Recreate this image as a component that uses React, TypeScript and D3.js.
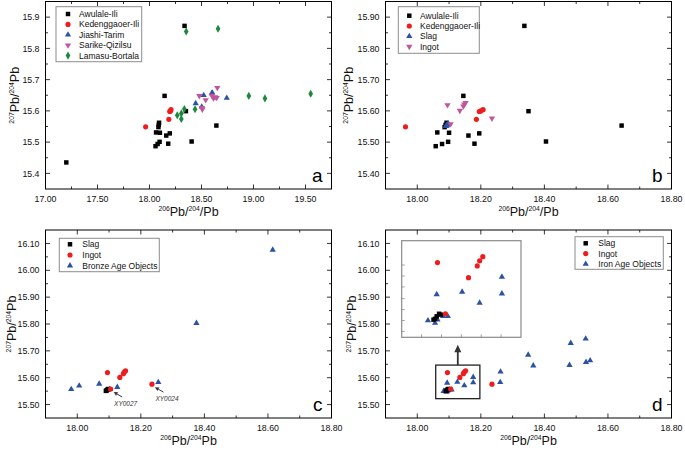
import React from "react";
import * as d3 from "d3";

const FONT = "'Liberation Sans', Arial, Helvetica, sans-serif";

// ---------------- data ----------------
const awulaleX = [17.2, 18.337, 18.145, 18.35, 18.063, 18.1, 18.161, 18.195, 18.058, 18.078, 18.097, 18.18, 18.405, 18.643, 18.086, 18.089, 18.092];
const awulaleY = [15.435, 15.872, 15.648, 15.599, 15.531, 15.53, 15.521, 15.528, 15.487, 15.494, 15.501, 15.495, 15.502, 15.553, 15.548, 15.555, 15.562];
const kedengX = [17.963, 18.186, 18.195, 18.2, 18.207];
const kedengY = [15.549, 15.573, 15.598, 15.6, 15.604];
const jiashiX = [18.444, 18.521, 18.502, 18.598, 18.604, 18.743];
const jiashiY = [15.624, 15.65, 15.613, 15.656, 15.658, 15.641];
const sarikeX = [18.479, 18.54, 18.508, 18.505, 18.615, 18.63, 18.646, 18.652, 18.6];
const sarikeY = [15.648, 15.635, 15.605, 15.61, 15.641, 15.644, 15.642, 15.674, 15.649];
const lamasuX = [18.353, 18.659, 18.955, 19.11, 19.55, 18.267, 18.306, 18.306, 18.335, 18.438];
const lamasuY = [15.854, 15.863, 15.648, 15.64, 15.655, 15.586, 15.592, 15.574, 15.606, 15.605];
const slagX = [18.09, 18.092, 18.094, 18.097, 18.099];
const slagY = [15.551, 15.552, 15.555, 15.558, 15.557];
const ingotX = [18.095, 18.134, 18.145, 18.148, 18.152, 18.105, 18.235];
const ingotY = [15.619, 15.601, 15.615, 15.621, 15.626, 15.558, 15.576];
const bronzeX = [17.981, 18.006, 18.069, 18.126, 18.255, 18.375, 18.615, 18.102];
const bronzeY = [15.557, 15.57, 15.577, 15.565, 15.583, 15.803, 16.076, 15.557];
const ironX = [18.094, 18.126, 18.148, 18.176, 18.176, 18.262, 18.261, 18.349, 18.365, 18.483, 18.479, 18.53, 18.531, 18.544, 18.083, 18.092, 18.095, 18.102, 18.108];
const ironY = [15.581, 15.584, 15.571, 15.602, 15.582, 15.622, 15.583, 15.685, 15.645, 15.729, 15.647, 15.745, 15.658, 15.664, 15.55, 15.547, 15.551, 15.555, 15.555];

// tick values
const aXTicks = [17.0, 17.5, 18.0, 18.5, 19.0, 19.5];
const aYTicks = [15.4, 15.5, 15.6, 15.7, 15.8, 15.9];
const bXTicks = [18.0, 18.2, 18.4, 18.6, 18.8];
const bYTicks = [15.4, 15.5, 15.6, 15.7, 15.8, 15.9];
const cdXTicks = [18.0, 18.2, 18.4, 18.6, 18.8];
const cdYTicks = [15.5, 15.6, 15.7, 15.8, 15.9, 16.0, 16.1];
const insetXTicks = [18.075, 18.1, 18.125, 18.15, 18.175];
const insetYTicks = [15.537, 15.55, 15.563, 15.576, 15.59, 15.603, 15.616];

// annotation labels (panel c) pointing at ingot samples
const annoLabels = ["XY0027", "XY0024"];
const annoIngotIndex = [5, 6];

// zoom region (panel d)
const zoomBoxX = [18.058, 18.197];
const zoomBoxY = [15.522, 15.647];
const insetDomX = [18.05, 18.2];
const insetDomY = [15.53, 15.645];

// ---------------- styles ----------------
type Marker = "square" | "circle" | "triangle" | "down" | "diamond";
const C = {
  black: "#000000",
  red: "#ee1d1d",
  blue: "#2b52a5",
  magenta: "#c0569d",
  green: "#1b8a3d",
};

interface Series {
  name: string;
  xs: number[];
  ys: number[];
  marker: Marker;
  color: string;
}

function symPath(m: Marker): string {
  const type =
    m === "square" ? d3.symbolSquare : m === "circle" ? d3.symbolCircle : m === "diamond" ? d3.symbolDiamond : d3.symbolTriangle;
  const size = m === "square" ? 20 : m === "circle" ? 21 : m === "diamond" ? 19 : 17;
  return d3.symbol().type(type).size(size)() as string;
}

function Mark({ m, color, x, y }: { m: Marker; color: string; x: number; y: number }) {
  return (
    <path
      d={symPath(m)}
      fill={color}
      transform={`translate(${x},${y})${m === "down" ? " rotate(180)" : ""}`}
    />
  );
}

function minorTicks(domain: number[], step: number, majors: number[]) {
  const out: number[] = [];
  const start = Math.ceil(domain[0] / step - 1e-6) * step;
  for (let v = start; v <= domain[1] + 1e-9; v += step) {
    const r = +v.toFixed(4);
    if (Math.abs(r - domain[0]) < 1e-6 || Math.abs(r - domain[1]) < 1e-6) continue;
    if (majors.some((mm) => Math.abs(mm - r) < 1e-6)) continue;
    out.push(r);
  }
  return out;
}

interface PanelCfg {
  id: string;
  left: number;
  top: number;
  width: number;
  height: number;
  xDomain: number[];
  yDomain: number[];
  xTicks: number[];
  yTicks: number[];
  xMinor: number;
  yMinor: number;
  xFmt: string;
  yFmt: string;
  xTitleExtra: boolean;
  yTitleOffset: number;
  series: Series[];
  legend: { x: number; y: number; w: number; h: number; mx: number; tx: number; rows: number[]; items: Series[] };
}

const S_awulale: Series = { name: "Awulale-Ili", xs: awulaleX, ys: awulaleY, marker: "square", color: C.black };
const S_keden: Series = { name: "Kedenggaoer-Ili", xs: kedengX, ys: kedengY, marker: "circle", color: C.red };
const S_jiashi: Series = { name: "Jiashi-Tarim", xs: jiashiX, ys: jiashiY, marker: "triangle", color: C.blue };
const S_sarike: Series = { name: "Sarike-Qizilsu", xs: sarikeX, ys: sarikeY, marker: "down", color: C.magenta };
const S_lamasu: Series = { name: "Lamasu-Bortala", xs: lamasuX, ys: lamasuY, marker: "diamond", color: C.green };
const S_slagB: Series = { name: "Slag", xs: slagX, ys: slagY, marker: "triangle", color: C.blue };
const S_ingotB: Series = { name: "Ingot", xs: ingotX, ys: ingotY, marker: "down", color: C.magenta };
const S_slag: Series = { name: "Slag", xs: slagX, ys: slagY, marker: "square", color: C.black };
const S_ingot: Series = { name: "Ingot", xs: ingotX, ys: ingotY, marker: "circle", color: C.red };
const S_bronze: Series = { name: "Bronze Age Objects", xs: bronzeX, ys: bronzeY, marker: "triangle", color: C.blue };
const S_iron: Series = { name: "Iron Age Objects", xs: ironX, ys: ironY, marker: "triangle", color: C.blue };

const W = 286;
const panels: PanelCfg[] = [
  {
    id: "a", left: 45.5, top: 1.5, width: W, height: 187.5,
    xDomain: [17, 19.75], yDomain: [15.35, 15.95], xTicks: aXTicks, yTicks: aYTicks,
    xMinor: 0.25, yMinor: 0.05, xFmt: ".2f", yFmt: ".1f", xTitleExtra: true, yTitleOffset: 27,
    series: [S_awulale, S_keden, S_jiashi, S_sarike, S_lamasu],
    legend: { x: 56, y: 6.7, w: 85.7, h: 55, mx: 68, tx: 79, rows: [14, 24.4, 34.8, 45.2, 55.6], items: [S_awulale, S_keden, S_jiashi, S_sarike, S_lamasu] },
  },
  {
    id: "b", left: 385.5, top: 1.5, width: W, height: 187.5,
    xDomain: [17.9, 18.8], yDomain: [15.35, 15.95], xTicks: bXTicks, yTicks: bYTicks,
    xMinor: 0.1, yMinor: 0.05, xFmt: ".2f", yFmt: ".2f", xTitleExtra: true, yTitleOffset: 33,
    series: [S_awulale, S_keden, S_slagB, S_ingotB],
    legend: { x: 398.3, y: 6.7, w: 81, h: 46.6, mx: 409.3, tx: 420, rows: [15.7, 26, 36.3, 46.6], items: [S_awulale, S_keden, S_slagB, S_ingotB] },
  },
  {
    id: "c", left: 45.5, top: 230, width: W, height: 188,
    xDomain: [17.9, 18.8], yDomain: [15.45, 16.15], xTicks: cdXTicks, yTicks: cdYTicks,
    xMinor: 0.1, yMinor: 0.05, xFmt: ".2f", yFmt: ".2f", xTitleExtra: false, yTitleOffset: 30,
    series: [S_bronze, S_slag, S_ingot],
    legend: { x: 59.3, y: 238.3, w: 100, h: 33.4, mx: 70, tx: 82.3, rows: [244.3, 255, 265.7], items: [S_slag, S_ingot, S_bronze] },
  },
  {
    id: "d", left: 385.5, top: 230, width: W, height: 188,
    xDomain: [17.9, 18.8], yDomain: [15.45, 16.15], xTicks: cdXTicks, yTicks: cdYTicks,
    xMinor: 0.1, yMinor: 0.05, xFmt: ".2f", yFmt: ".2f", xTitleExtra: false, yTitleOffset: 30,
    series: [S_iron, S_slag, S_ingot],
    legend: { x: 575, y: 236.7, w: 88.3, h: 32.6, mx: 585.7, tx: 598.3, rows: [243.3, 253.7, 264], items: [S_slag, S_ingot, S_iron] },
  },
];

function Points({ series, x, y, xd, yd }: { series: Series[]; x: any; y: any; xd: number[]; yd: number[] }) {
  return (
    <g>
      {series.map((s, si) =>
        s.xs.map((xv, i) => {
          const yv = s.ys[i];
          if (xv < xd[0] || xv > xd[1] || yv < yd[0] || yv > yd[1]) return null;
          return <Mark key={`${si}-${i}`} m={s.marker} color={s.color} x={x(xv)} y={y(yv)} />;
        })
      )}
    </g>
  );
}

function Panel({ cfg }: { cfg: PanelCfg }) {
  const { left, top, width, height } = cfg;
  const right = left + width;
  const bottom = top + height;
  const x = d3.scaleLinear().domain(cfg.xDomain).range([left, right]);
  const y = d3.scaleLinear().domain(cfg.yDomain).range([bottom, top]);
  const xMin = minorTicks(cfg.xDomain, cfg.xMinor, cfg.xTicks);
  const yMin = minorTicks(cfg.yDomain, cfg.yMinor, cfg.yTicks);
  const fx = d3.format(cfg.xFmt);
  const fy = d3.format(cfg.yFmt);
  const isEdge = (v: number, d: number[]) => Math.abs(v - d[0]) < 1e-6 || Math.abs(v - d[1]) < 1e-6;
  const MAJ = 4.5;
  const MIN = 2.5;
  const cx = (left + right) / 2;
  const cy = (top + bottom) / 2;
  const SUP = 6.8;
  const MAINF = 12.5;

  const tickLines: any[] = [];
  cfg.xTicks.forEach((v, i) => {
    if (isEdge(v, cfg.xDomain)) return;
    const px = x(v);
    tickLines.push(<line key={`xb${i}`} x1={px} x2={px} y1={bottom} y2={bottom - MAJ} />);
    tickLines.push(<line key={`xt${i}`} x1={px} x2={px} y1={top} y2={top + MAJ} />);
  });
  xMin.forEach((v, i) => {
    const px = x(v);
    tickLines.push(<line key={`xmb${i}`} x1={px} x2={px} y1={bottom} y2={bottom - MIN} />);
    tickLines.push(<line key={`xmt${i}`} x1={px} x2={px} y1={top} y2={top + MIN} />);
  });
  cfg.yTicks.forEach((v, i) => {
    if (isEdge(v, cfg.yDomain)) return;
    const py = y(v);
    tickLines.push(<line key={`yl${i}`} x1={left} x2={left + MAJ} y1={py} y2={py} />);
    tickLines.push(<line key={`yr${i}`} x1={right} x2={right - MAJ} y1={py} y2={py} />);
  });
  yMin.forEach((v, i) => {
    const py = y(v);
    tickLines.push(<line key={`yml${i}`} x1={left} x2={left + MIN} y1={py} y2={py} />);
    tickLines.push(<line key={`ymr${i}`} x1={right} x2={right - MIN} y1={py} y2={py} />);
  });

  const lg = cfg.legend;

  return (
    <g>
      <rect x={left} y={top} width={width} height={height} fill="none" stroke="#000" strokeWidth={1} />
      <g stroke="#000" strokeWidth={0.8}>{tickLines}</g>
      <g fontFamily={FONT} fontSize={8.8} fill="#111">
        {cfg.xTicks.map((v, i) => (
          <text key={`xl${i}`} x={x(v)} y={bottom + 13} textAnchor="middle">{fx(v)}</text>
        ))}
        {cfg.yTicks.map((v, i) => (
          <text key={`yl${i}`} x={left - 6} y={y(v) + 3.2} textAnchor="end">{fy(v)}</text>
        ))}
      </g>
      {/* x title */}
      <text x={cx} y={bottom + 27} textAnchor="middle" fontFamily={FONT} fontSize={MAINF} fill="#111">
        <tspan fontSize={SUP} dy={-5}>206</tspan>
        <tspan dy={5}>Pb/</tspan>
        <tspan fontSize={SUP} dy={-5}>204</tspan>
        <tspan dy={5}>{cfg.xTitleExtra ? "/Pb" : "Pb"}</tspan>
      </text>
      {/* y title */}
      <text
        transform={`translate(${left - cfg.yTitleOffset},${cy}) rotate(-90)`}
        textAnchor="middle"
        fontFamily={FONT}
        fontSize={MAINF}
        fill="#111"
      >
        <tspan fontSize={SUP} dy={-5}>207</tspan>
        <tspan dy={5}>Pb/</tspan>
        <tspan fontSize={SUP} dy={-5}>204</tspan>
        <tspan dy={5}>Pb</tspan>
      </text>
      <Points series={cfg.series} x={x} y={y} xd={cfg.xDomain} yd={cfg.yDomain} />
      {/* legend */}
      <rect x={lg.x} y={lg.y} width={lg.w} height={lg.h} fill="#fff" stroke="#8c8c8c" strokeWidth={1} />
      {lg.items.map((s, i) => (
        <g key={`lg${i}`}>
          <Mark m={s.marker} color={s.color} x={lg.mx} y={lg.rows[i]} />
          <text x={lg.tx} y={lg.rows[i] + 3} fontFamily={FONT} fontSize={8.5} fill="#111">{s.name}</text>
        </g>
      ))}
      <text x={right - 9} y={bottom - 7.5} textAnchor="end" fontFamily={FONT} fontSize={19} fill="#000">{cfg.id}</text>
    </g>
  );
}

function Annotations({ cfg }: { cfg: PanelCfg }) {
  const x = d3.scaleLinear().domain(cfg.xDomain).range([cfg.left, cfg.left + cfg.width]);
  const y = d3.scaleLinear().domain(cfg.yDomain).range([cfg.top + cfg.height, cfg.top]);
  return (
    <g>
      {annoLabels.map((lab, i) => {
        const k = annoIngotIndex[i];
        const px = x(ingotX[k]);
        const py = y(ingotY[k]);
        const hx = px + 3, hy = py + 3;
        const tx = px + 11.5, ty = py + 8;
        const ang = Math.atan2(hy - ty, hx - tx);
        const L = 4, Wd = 2;
        const bx = hx - L * Math.cos(ang), by = hy - L * Math.sin(ang);
        const nx = -Math.sin(ang) * Wd, ny = Math.cos(ang) * Wd;
        return (
          <g key={lab}>
            <line x1={tx} y1={ty} x2={bx} y2={by} stroke="#333" strokeWidth={1} />
            <path d={`M${hx},${hy}L${bx + nx},${by + ny}L${bx - nx},${by - ny}Z`} fill="#333" />
            <text x={px + 15} y={py + 17} textAnchor="middle" fontFamily={FONT} fontSize={6.5} fontStyle="italic" fill="#333">{lab}</text>
          </g>
        );
      })}
    </g>
  );
}

function ZoomInset({ cfg }: { cfg: PanelCfg }) {
  const x = d3.scaleLinear().domain(cfg.xDomain).range([cfg.left, cfg.left + cfg.width]);
  const y = d3.scaleLinear().domain(cfg.yDomain).range([cfg.top + cfg.height, cfg.top]);
  const bx0 = x(zoomBoxX[0]), bx1 = x(zoomBoxX[1]);
  const by0 = y(zoomBoxY[1]), by1 = y(zoomBoxY[0]);
  const iL = 401.7, iT = 240.7, iR = 521, iB = 337.3;
  const ix = d3.scaleLinear().domain(insetDomX).range([iL, iR]);
  const iy = d3.scaleLinear().domain(insetDomY).range([iB, iT]);
  const ax = (bx0 + bx1) / 2;
  const aTop = iB + 7.5;
  return (
    <g>
      <rect x={bx0} y={by0} width={bx1 - bx0} height={by1 - by0} fill="none" stroke="#222" strokeWidth={1.3} />
      <line x1={ax} x2={ax} y1={by0} y2={aTop + 6} stroke="#333" strokeWidth={1.8} />
      <path d={`M${ax},${aTop}L${ax - 3.5},${aTop + 7.5}L${ax + 3.5},${aTop + 7.5}Z`} fill="#333" />
      <rect x={iL} y={iT} width={iR - iL} height={iB - iT} fill="#fff" stroke="#8a8a8a" strokeWidth={1.2} />
      <g stroke="#8a8a8a" strokeWidth={0.8}>
        {insetXTicks.map((v, i) => (
          <line key={`ix${i}`} x1={ix(v)} x2={ix(v)} y1={iB} y2={iB - 3} />
        ))}
        {insetYTicks.map((v, i) => (
          <line key={`iy${i}`} x1={iL} x2={iL + 3} y1={iy(v)} y2={iy(v)} />
        ))}
      </g>
      <Points series={[S_iron, S_slag, S_ingot]} x={ix} y={iy} xd={insetDomX} yd={insetDomY} />
    </g>
  );
}

export default function App() {
  return (
    <svg
      width={685}
      height={452}
      viewBox="0 0 685 452"
      style={{ position: "absolute", left: 0, top: 0, background: "#fff" }}
    >
      <rect x={0} y={0} width={685} height={452} fill="#fff" />
      {panels.map((p) => (
        <Panel key={p.id} cfg={p} />
      ))}
      <Annotations cfg={panels[2]} />
      <ZoomInset cfg={panels[3]} />
    </svg>
  );
}
